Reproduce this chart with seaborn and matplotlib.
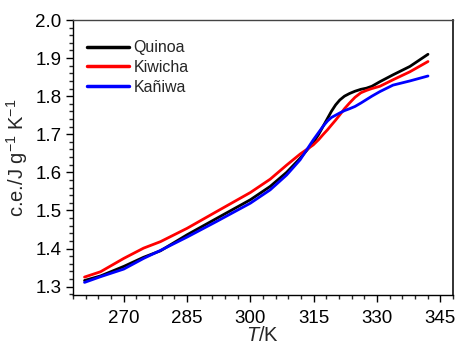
import numpy as np
import pandas as pd
import matplotlib
matplotlib.use("Agg")
import matplotlib.pyplot as plt
from matplotlib.ticker import MultipleLocator
import seaborn as sns

T = [260.7, 264.5, 270, 274.7, 278.7, 285, 292, 300, 304.7, 308.6, 311.8, 314.9,
     316.2, 317.3, 318.3, 319.2, 320.2, 321.2, 322.3, 323.5, 324.8, 326.2, 327.5, 328.8,
     330.7, 333.8, 337.8, 342.1]
quinoa = [1.316, 1.328, 1.353, 1.377, 1.394, 1.436, 1.479, 1.528, 1.563, 1.600, 1.637, 1.678,
          1.700, 1.722, 1.742, 1.760, 1.777, 1.790, 1.800, 1.807, 1.813, 1.818, 1.821, 1.826,
          1.838, 1.856, 1.878, 1.910]
kiwicha = [1.325, 1.339, 1.374, 1.401, 1.418, 1.453, 1.497, 1.547, 1.582, 1.619, 1.648, 1.672,
           1.686, 1.700, 1.712, 1.724, 1.737, 1.751, 1.767, 1.782, 1.797, 1.809, 1.815, 1.820,
           1.826, 1.843, 1.864, 1.891]
kaniwa = [1.311, 1.326, 1.346, 1.374, 1.395, 1.430, 1.471, 1.519, 1.554, 1.593, 1.633, 1.685,
          1.705, 1.722, 1.735, 1.744, 1.750, 1.756, 1.762, 1.767, 1.773, 1.782, 1.791, 1.800,
          1.812, 1.829, 1.840, 1.853]
series = ["Quinoa", "Kiwicha", "Kañiwa"]
colors = ["#000000", "#ff0000", "#0000ff"]
xticks = [270, 285, 300, 315, 330, 345]
yticks = [1.3, 1.4, 1.5, 1.6, 1.7, 1.8, 1.9, 2.0]

df = pd.concat([
    pd.DataFrame({"T": T, "cp": vals, "sample": name})
    for name, vals in zip(series, [quinoa, kiwicha, kaniwa])
])

sns.set_style("ticks")
plt.rcParams["font.family"] = ["Liberation Sans", "DejaVu Sans"]
plt.rcParams["mathtext.fontset"] = "custom"
plt.rcParams["mathtext.rm"] = "Liberation Sans"
plt.rcParams["mathtext.it"] = "Liberation Sans:italic"

fig = plt.figure(figsize=(4.57, 3.45), dpi=100)
ax = fig.add_axes([0.16, 0.145, 0.831, 0.797])
sns.lineplot(data=df, x="T", y="cp", hue="sample", palette=dict(zip(series, colors)),
             linewidth=2.0, ax=ax, sort=True, estimator=None)

ax.set_xlim(258, 348)
ax.set_ylim(1.278, 2.0)
ax.set_xticks(xticks)
ax.set_yticks(yticks)
ax.set_yticklabels([f"{v:.1f}" for v in yticks])
ax.xaxis.set_minor_locator(MultipleLocator(3))
ax.yaxis.set_minor_locator(MultipleLocator(0.02))
ax.tick_params(axis="both", which="major", direction="out", length=5, width=1.0,
               labelsize=13.5, colors="black")
ax.tick_params(axis="both", which="minor", direction="out", length=3, width=1.0)
ax.tick_params(axis="x", pad=6)
for side in ["left", "bottom"]:
    ax.spines[side].set_color("black")
    ax.spines[side].set_linewidth(1.0)
ax.spines["top"].set_color("#444444")
ax.spines["top"].set_linewidth(1.0)
ax.spines["right"].set_color("#222222")
ax.spines["right"].set_linewidth(1.3)
ax.spines["top"].set_visible(True)
ax.spines["right"].set_visible(True)

ax.set_xlabel(r"$T$/K", fontsize=14.5, labelpad=-1)
ax.set_ylabel(r"c.e./J g$^{-1}$ K$^{-1}$", fontsize=14.5, labelpad=4)

leg = ax.legend(loc="upper left", bbox_to_anchor=(0.02, 0.95), frameon=False, fontsize=11.5,
                handlelength=2.6, handletextpad=0.3, labelspacing=0.3, borderaxespad=0.0)
for line in leg.get_lines():
    line.set_linewidth(2.5)

fig.savefig("out.png", dpi=100)
